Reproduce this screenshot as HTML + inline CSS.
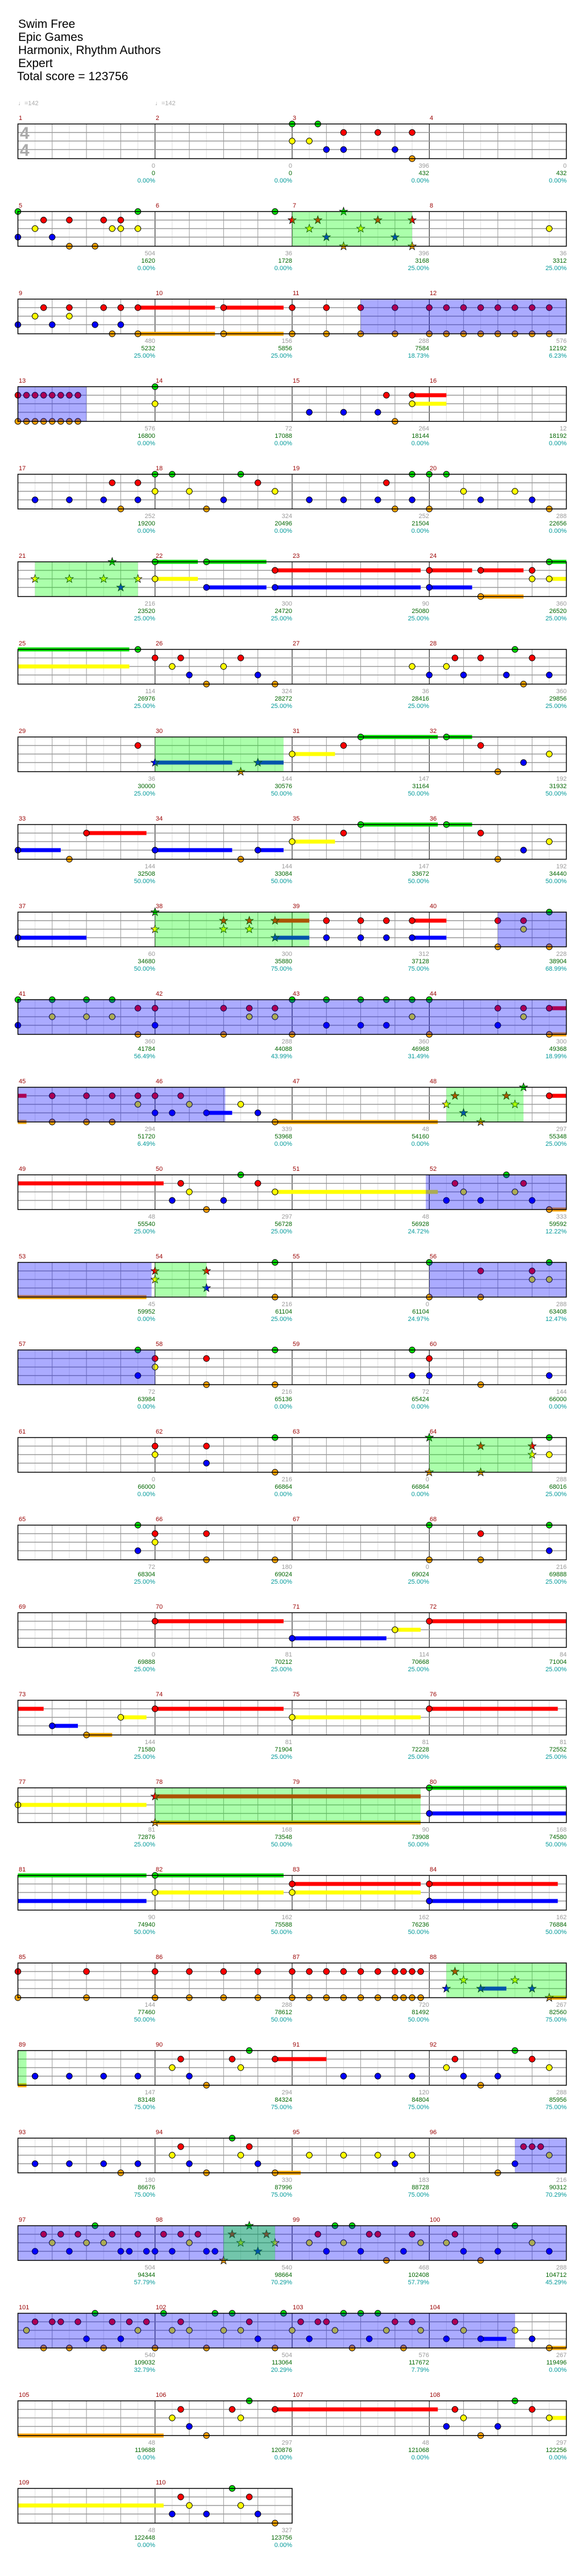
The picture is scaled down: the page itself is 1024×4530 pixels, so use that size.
<!DOCTYPE html>
<html><head><meta charset="utf-8"><style>
html,body{margin:0;padding:0;background:#fff;}
body{width:1024px;height:4530px;overflow:hidden;position:relative;}
svg{position:absolute;left:0;top:0;}
text{font-family:"Liberation Sans",sans-serif;font-size:11px;}
.t{font-size:21px;fill:#000;}
.m{fill:#990000;}
.a{fill:#999;text-anchor:end;}
.b{fill:#006600;text-anchor:end;}
.c{fill:#009999;text-anchor:end;}
.tp{fill:#aaa;}
.ts{fill:#aaa;font-size:30px;font-weight:bold;}
</style></head><body>
<svg id="s" width="1024" height="4530" viewBox="0 0 1024 4530" xmlns="http://www.w3.org/2000/svg">
<g id="shapes"></g>
<text class="t" x="32" y="49">Swim Free</text>
<text class="t" x="32" y="72">Epic Games</text>
<text class="t" x="32" y="95">Harmonix, Rhythm Authors</text>
<text class="t" x="32" y="118">Expert</text>
<text class="t" x="30" y="141">Total score = 123756</text>
<text class="tp" x="32" y="185">♩=142</text>
<text class="tp" x="273" y="185">♩=142</text>
<text class="ts" x="35" y="244">4</text>
<text class="ts" x="35" y="274">4</text>

<g transform="translate(0,218)"><text class="m" x="33" y="-7">1</text><text class="m" x="274" y="-7">2</text><text class="m" x="515" y="-7">3</text><text class="m" x="756" y="-7">4</text>
<text class="a" x="273" y="77">0</text><text class="b" x="273" y="90">0</text><text class="c" x="273" y="103">0.00%</text>
<text class="a" x="514" y="77">0</text><text class="b" x="514" y="90">0</text><text class="c" x="514" y="103">0.00%</text>
<text class="a" x="755" y="77">396</text><text class="b" x="755" y="90">432</text><text class="c" x="755" y="103">0.00%</text>
<text class="a" x="997" y="77">0</text><text class="b" x="997" y="90">432</text><text class="c" x="997" y="103">0.00%</text></g>

<g transform="translate(0,372)"><text class="m" x="33" y="-7">5</text><text class="m" x="274" y="-7">6</text><text class="m" x="515" y="-7">7</text><text class="m" x="756" y="-7">8</text>
<text class="a" x="273" y="77">504</text><text class="b" x="273" y="90">1620</text><text class="c" x="273" y="103">0.00%</text>
<text class="a" x="514" y="77">36</text><text class="b" x="514" y="90">1728</text><text class="c" x="514" y="103">0.00%</text>
<text class="a" x="755" y="77">396</text><text class="b" x="755" y="90">3168</text><text class="c" x="755" y="103">25.00%</text>
<text class="a" x="997" y="77">36</text><text class="b" x="997" y="90">3312</text><text class="c" x="997" y="103">25.00%</text></g>

<g transform="translate(0,526)"><text class="m" x="33" y="-7">9</text><text class="m" x="274" y="-7">10</text><text class="m" x="515" y="-7">11</text><text class="m" x="756" y="-7">12</text>
<text class="a" x="273" y="77">480</text><text class="b" x="273" y="90">5232</text><text class="c" x="273" y="103">25.00%</text>
<text class="a" x="514" y="77">156</text><text class="b" x="514" y="90">5856</text><text class="c" x="514" y="103">25.00%</text>
<text class="a" x="755" y="77">288</text><text class="b" x="755" y="90">7584</text><text class="c" x="755" y="103">18.73%</text>
<text class="a" x="997" y="77">576</text><text class="b" x="997" y="90">12192</text><text class="c" x="997" y="103">6.23%</text></g>

<g transform="translate(0,680)"><text class="m" x="33" y="-7">13</text><text class="m" x="274" y="-7">14</text><text class="m" x="515" y="-7">15</text><text class="m" x="756" y="-7">16</text>
<text class="a" x="273" y="77">576</text><text class="b" x="273" y="90">16800</text><text class="c" x="273" y="103">0.00%</text>
<text class="a" x="514" y="77">72</text><text class="b" x="514" y="90">17088</text><text class="c" x="514" y="103">0.00%</text>
<text class="a" x="755" y="77">264</text><text class="b" x="755" y="90">18144</text><text class="c" x="755" y="103">0.00%</text>
<text class="a" x="997" y="77">12</text><text class="b" x="997" y="90">18192</text><text class="c" x="997" y="103">0.00%</text></g>

<g transform="translate(0,834)"><text class="m" x="33" y="-7">17</text><text class="m" x="274" y="-7">18</text><text class="m" x="515" y="-7">19</text><text class="m" x="756" y="-7">20</text>
<text class="a" x="273" y="77">252</text><text class="b" x="273" y="90">19200</text><text class="c" x="273" y="103">0.00%</text>
<text class="a" x="514" y="77">324</text><text class="b" x="514" y="90">20496</text><text class="c" x="514" y="103">0.00%</text>
<text class="a" x="755" y="77">252</text><text class="b" x="755" y="90">21504</text><text class="c" x="755" y="103">0.00%</text>
<text class="a" x="997" y="77">288</text><text class="b" x="997" y="90">22656</text><text class="c" x="997" y="103">0.00%</text></g>

<g transform="translate(0,988)"><text class="m" x="33" y="-7">21</text><text class="m" x="274" y="-7">22</text><text class="m" x="515" y="-7">23</text><text class="m" x="756" y="-7">24</text>
<text class="a" x="273" y="77">216</text><text class="b" x="273" y="90">23520</text><text class="c" x="273" y="103">25.00%</text>
<text class="a" x="514" y="77">300</text><text class="b" x="514" y="90">24720</text><text class="c" x="514" y="103">25.00%</text>
<text class="a" x="755" y="77">90</text><text class="b" x="755" y="90">25080</text><text class="c" x="755" y="103">25.00%</text>
<text class="a" x="997" y="77">360</text><text class="b" x="997" y="90">26520</text><text class="c" x="997" y="103">25.00%</text></g>

<g transform="translate(0,1142)"><text class="m" x="33" y="-7">25</text><text class="m" x="274" y="-7">26</text><text class="m" x="515" y="-7">27</text><text class="m" x="756" y="-7">28</text>
<text class="a" x="273" y="77">114</text><text class="b" x="273" y="90">26976</text><text class="c" x="273" y="103">25.00%</text>
<text class="a" x="514" y="77">324</text><text class="b" x="514" y="90">28272</text><text class="c" x="514" y="103">25.00%</text>
<text class="a" x="755" y="77">36</text><text class="b" x="755" y="90">28416</text><text class="c" x="755" y="103">25.00%</text>
<text class="a" x="997" y="77">360</text><text class="b" x="997" y="90">29856</text><text class="c" x="997" y="103">25.00%</text></g>

<g transform="translate(0,1296)"><text class="m" x="33" y="-7">29</text><text class="m" x="274" y="-7">30</text><text class="m" x="515" y="-7">31</text><text class="m" x="756" y="-7">32</text>
<text class="a" x="273" y="77">36</text><text class="b" x="273" y="90">30000</text><text class="c" x="273" y="103">25.00%</text>
<text class="a" x="514" y="77">144</text><text class="b" x="514" y="90">30576</text><text class="c" x="514" y="103">50.00%</text>
<text class="a" x="755" y="77">147</text><text class="b" x="755" y="90">31164</text><text class="c" x="755" y="103">50.00%</text>
<text class="a" x="997" y="77">192</text><text class="b" x="997" y="90">31932</text><text class="c" x="997" y="103">50.00%</text></g>

<g transform="translate(0,1450)"><text class="m" x="33" y="-7">33</text><text class="m" x="274" y="-7">34</text><text class="m" x="515" y="-7">35</text><text class="m" x="756" y="-7">36</text>
<text class="a" x="273" y="77">144</text><text class="b" x="273" y="90">32508</text><text class="c" x="273" y="103">50.00%</text>
<text class="a" x="514" y="77">144</text><text class="b" x="514" y="90">33084</text><text class="c" x="514" y="103">50.00%</text>
<text class="a" x="755" y="77">147</text><text class="b" x="755" y="90">33672</text><text class="c" x="755" y="103">50.00%</text>
<text class="a" x="997" y="77">192</text><text class="b" x="997" y="90">34440</text><text class="c" x="997" y="103">50.00%</text></g>

<g transform="translate(0,1604)"><text class="m" x="33" y="-7">37</text><text class="m" x="274" y="-7">38</text><text class="m" x="515" y="-7">39</text><text class="m" x="756" y="-7">40</text>
<text class="a" x="273" y="77">60</text><text class="b" x="273" y="90">34680</text><text class="c" x="273" y="103">50.00%</text>
<text class="a" x="514" y="77">300</text><text class="b" x="514" y="90">35880</text><text class="c" x="514" y="103">75.00%</text>
<text class="a" x="755" y="77">312</text><text class="b" x="755" y="90">37128</text><text class="c" x="755" y="103">75.00%</text>
<text class="a" x="997" y="77">228</text><text class="b" x="997" y="90">38904</text><text class="c" x="997" y="103">68.99%</text></g>

<g transform="translate(0,1758)"><text class="m" x="33" y="-7">41</text><text class="m" x="274" y="-7">42</text><text class="m" x="515" y="-7">43</text><text class="m" x="756" y="-7">44</text>
<text class="a" x="273" y="77">360</text><text class="b" x="273" y="90">41784</text><text class="c" x="273" y="103">56.49%</text>
<text class="a" x="514" y="77">288</text><text class="b" x="514" y="90">44088</text><text class="c" x="514" y="103">43.99%</text>
<text class="a" x="755" y="77">360</text><text class="b" x="755" y="90">46968</text><text class="c" x="755" y="103">31.49%</text>
<text class="a" x="997" y="77">300</text><text class="b" x="997" y="90">49368</text><text class="c" x="997" y="103">18.99%</text></g>

<g transform="translate(0,1912)"><text class="m" x="33" y="-7">45</text><text class="m" x="274" y="-7">46</text><text class="m" x="515" y="-7">47</text><text class="m" x="756" y="-7">48</text>
<text class="a" x="273" y="77">294</text><text class="b" x="273" y="90">51720</text><text class="c" x="273" y="103">6.49%</text>
<text class="a" x="514" y="77">339</text><text class="b" x="514" y="90">53968</text><text class="c" x="514" y="103">0.00%</text>
<text class="a" x="755" y="77">48</text><text class="b" x="755" y="90">54160</text><text class="c" x="755" y="103">0.00%</text>
<text class="a" x="997" y="77">297</text><text class="b" x="997" y="90">55348</text><text class="c" x="997" y="103">25.00%</text></g>

<g transform="translate(0,2066)"><text class="m" x="33" y="-7">49</text><text class="m" x="274" y="-7">50</text><text class="m" x="515" y="-7">51</text><text class="m" x="756" y="-7">52</text>
<text class="a" x="273" y="77">48</text><text class="b" x="273" y="90">55540</text><text class="c" x="273" y="103">25.00%</text>
<text class="a" x="514" y="77">297</text><text class="b" x="514" y="90">56728</text><text class="c" x="514" y="103">25.00%</text>
<text class="a" x="755" y="77">48</text><text class="b" x="755" y="90">56928</text><text class="c" x="755" y="103">24.72%</text>
<text class="a" x="997" y="77">333</text><text class="b" x="997" y="90">59592</text><text class="c" x="997" y="103">12.22%</text></g>

<g transform="translate(0,2220)"><text class="m" x="33" y="-7">53</text><text class="m" x="274" y="-7">54</text><text class="m" x="515" y="-7">55</text><text class="m" x="756" y="-7">56</text>
<text class="a" x="273" y="77">45</text><text class="b" x="273" y="90">59952</text><text class="c" x="273" y="103">0.00%</text>
<text class="a" x="514" y="77">216</text><text class="b" x="514" y="90">61104</text><text class="c" x="514" y="103">25.00%</text>
<text class="a" x="755" y="77">0</text><text class="b" x="755" y="90">61104</text><text class="c" x="755" y="103">24.97%</text>
<text class="a" x="997" y="77">288</text><text class="b" x="997" y="90">63408</text><text class="c" x="997" y="103">12.47%</text></g>

<g transform="translate(0,2374)"><text class="m" x="33" y="-7">57</text><text class="m" x="274" y="-7">58</text><text class="m" x="515" y="-7">59</text><text class="m" x="756" y="-7">60</text>
<text class="a" x="273" y="77">72</text><text class="b" x="273" y="90">63984</text><text class="c" x="273" y="103">0.00%</text>
<text class="a" x="514" y="77">216</text><text class="b" x="514" y="90">65136</text><text class="c" x="514" y="103">0.00%</text>
<text class="a" x="755" y="77">72</text><text class="b" x="755" y="90">65424</text><text class="c" x="755" y="103">0.00%</text>
<text class="a" x="997" y="77">144</text><text class="b" x="997" y="90">66000</text><text class="c" x="997" y="103">0.00%</text></g>

<g transform="translate(0,2528)"><text class="m" x="33" y="-7">61</text><text class="m" x="274" y="-7">62</text><text class="m" x="515" y="-7">63</text><text class="m" x="756" y="-7">64</text>
<text class="a" x="273" y="77">0</text><text class="b" x="273" y="90">66000</text><text class="c" x="273" y="103">0.00%</text>
<text class="a" x="514" y="77">216</text><text class="b" x="514" y="90">66864</text><text class="c" x="514" y="103">0.00%</text>
<text class="a" x="755" y="77">0</text><text class="b" x="755" y="90">66864</text><text class="c" x="755" y="103">0.00%</text>
<text class="a" x="997" y="77">288</text><text class="b" x="997" y="90">68016</text><text class="c" x="997" y="103">25.00%</text></g>

<g transform="translate(0,2682)"><text class="m" x="33" y="-7">65</text><text class="m" x="274" y="-7">66</text><text class="m" x="515" y="-7">67</text><text class="m" x="756" y="-7">68</text>
<text class="a" x="273" y="77">72</text><text class="b" x="273" y="90">68304</text><text class="c" x="273" y="103">25.00%</text>
<text class="a" x="514" y="77">180</text><text class="b" x="514" y="90">69024</text><text class="c" x="514" y="103">25.00%</text>
<text class="a" x="755" y="77">0</text><text class="b" x="755" y="90">69024</text><text class="c" x="755" y="103">25.00%</text>
<text class="a" x="997" y="77">216</text><text class="b" x="997" y="90">69888</text><text class="c" x="997" y="103">25.00%</text></g>

<g transform="translate(0,2836)"><text class="m" x="33" y="-7">69</text><text class="m" x="274" y="-7">70</text><text class="m" x="515" y="-7">71</text><text class="m" x="756" y="-7">72</text>
<text class="a" x="273" y="77">0</text><text class="b" x="273" y="90">69888</text><text class="c" x="273" y="103">25.00%</text>
<text class="a" x="514" y="77">81</text><text class="b" x="514" y="90">70212</text><text class="c" x="514" y="103">25.00%</text>
<text class="a" x="755" y="77">114</text><text class="b" x="755" y="90">70668</text><text class="c" x="755" y="103">25.00%</text>
<text class="a" x="997" y="77">84</text><text class="b" x="997" y="90">71004</text><text class="c" x="997" y="103">25.00%</text></g>

<g transform="translate(0,2990)"><text class="m" x="33" y="-7">73</text><text class="m" x="274" y="-7">74</text><text class="m" x="515" y="-7">75</text><text class="m" x="756" y="-7">76</text>
<text class="a" x="273" y="77">144</text><text class="b" x="273" y="90">71580</text><text class="c" x="273" y="103">25.00%</text>
<text class="a" x="514" y="77">81</text><text class="b" x="514" y="90">71904</text><text class="c" x="514" y="103">25.00%</text>
<text class="a" x="755" y="77">81</text><text class="b" x="755" y="90">72228</text><text class="c" x="755" y="103">25.00%</text>
<text class="a" x="997" y="77">81</text><text class="b" x="997" y="90">72552</text><text class="c" x="997" y="103">25.00%</text></g>

<g transform="translate(0,3144)"><text class="m" x="33" y="-7">77</text><text class="m" x="274" y="-7">78</text><text class="m" x="515" y="-7">79</text><text class="m" x="756" y="-7">80</text>
<text class="a" x="273" y="77">81</text><text class="b" x="273" y="90">72876</text><text class="c" x="273" y="103">25.00%</text>
<text class="a" x="514" y="77">168</text><text class="b" x="514" y="90">73548</text><text class="c" x="514" y="103">50.00%</text>
<text class="a" x="755" y="77">90</text><text class="b" x="755" y="90">73908</text><text class="c" x="755" y="103">50.00%</text>
<text class="a" x="997" y="77">168</text><text class="b" x="997" y="90">74580</text><text class="c" x="997" y="103">50.00%</text></g>

<g transform="translate(0,3298)"><text class="m" x="33" y="-7">81</text><text class="m" x="274" y="-7">82</text><text class="m" x="515" y="-7">83</text><text class="m" x="756" y="-7">84</text>
<text class="a" x="273" y="77">90</text><text class="b" x="273" y="90">74940</text><text class="c" x="273" y="103">50.00%</text>
<text class="a" x="514" y="77">162</text><text class="b" x="514" y="90">75588</text><text class="c" x="514" y="103">50.00%</text>
<text class="a" x="755" y="77">162</text><text class="b" x="755" y="90">76236</text><text class="c" x="755" y="103">50.00%</text>
<text class="a" x="997" y="77">162</text><text class="b" x="997" y="90">76884</text><text class="c" x="997" y="103">50.00%</text></g>

<g transform="translate(0,3452)"><text class="m" x="33" y="-7">85</text><text class="m" x="274" y="-7">86</text><text class="m" x="515" y="-7">87</text><text class="m" x="756" y="-7">88</text>
<text class="a" x="273" y="77">144</text><text class="b" x="273" y="90">77460</text><text class="c" x="273" y="103">50.00%</text>
<text class="a" x="514" y="77">288</text><text class="b" x="514" y="90">78612</text><text class="c" x="514" y="103">50.00%</text>
<text class="a" x="755" y="77">720</text><text class="b" x="755" y="90">81492</text><text class="c" x="755" y="103">50.00%</text>
<text class="a" x="997" y="77">267</text><text class="b" x="997" y="90">82560</text><text class="c" x="997" y="103">75.00%</text></g>

<g transform="translate(0,3606)"><text class="m" x="33" y="-7">89</text><text class="m" x="274" y="-7">90</text><text class="m" x="515" y="-7">91</text><text class="m" x="756" y="-7">92</text>
<text class="a" x="273" y="77">147</text><text class="b" x="273" y="90">83148</text><text class="c" x="273" y="103">75.00%</text>
<text class="a" x="514" y="77">294</text><text class="b" x="514" y="90">84324</text><text class="c" x="514" y="103">75.00%</text>
<text class="a" x="755" y="77">120</text><text class="b" x="755" y="90">84804</text><text class="c" x="755" y="103">75.00%</text>
<text class="a" x="997" y="77">288</text><text class="b" x="997" y="90">85956</text><text class="c" x="997" y="103">75.00%</text></g>

<g transform="translate(0,3760)"><text class="m" x="33" y="-7">93</text><text class="m" x="274" y="-7">94</text><text class="m" x="515" y="-7">95</text><text class="m" x="756" y="-7">96</text>
<text class="a" x="273" y="77">180</text><text class="b" x="273" y="90">86676</text><text class="c" x="273" y="103">75.00%</text>
<text class="a" x="514" y="77">330</text><text class="b" x="514" y="90">87996</text><text class="c" x="514" y="103">75.00%</text>
<text class="a" x="755" y="77">183</text><text class="b" x="755" y="90">88728</text><text class="c" x="755" y="103">75.00%</text>
<text class="a" x="997" y="77">216</text><text class="b" x="997" y="90">90312</text><text class="c" x="997" y="103">70.29%</text></g>

<g transform="translate(0,3914)"><text class="m" x="33" y="-7">97</text><text class="m" x="274" y="-7">98</text><text class="m" x="515" y="-7">99</text><text class="m" x="756" y="-7">100</text>
<text class="a" x="273" y="77">504</text><text class="b" x="273" y="90">94344</text><text class="c" x="273" y="103">57.79%</text>
<text class="a" x="514" y="77">540</text><text class="b" x="514" y="90">98664</text><text class="c" x="514" y="103">70.29%</text>
<text class="a" x="755" y="77">468</text><text class="b" x="755" y="90">102408</text><text class="c" x="755" y="103">57.79%</text>
<text class="a" x="997" y="77">288</text><text class="b" x="997" y="90">104712</text><text class="c" x="997" y="103">45.29%</text></g>

<g transform="translate(0,4068)"><text class="m" x="33" y="-7">101</text><text class="m" x="274" y="-7">102</text><text class="m" x="515" y="-7">103</text><text class="m" x="756" y="-7">104</text>
<text class="a" x="273" y="77">540</text><text class="b" x="273" y="90">109032</text><text class="c" x="273" y="103">32.79%</text>
<text class="a" x="514" y="77">504</text><text class="b" x="514" y="90">113064</text><text class="c" x="514" y="103">20.29%</text>
<text class="a" x="755" y="77">576</text><text class="b" x="755" y="90">117672</text><text class="c" x="755" y="103">7.79%</text>
<text class="a" x="997" y="77">267</text><text class="b" x="997" y="90">119496</text><text class="c" x="997" y="103">0.00%</text></g>

<g transform="translate(0,4222)"><text class="m" x="33" y="-7">105</text><text class="m" x="274" y="-7">106</text><text class="m" x="515" y="-7">107</text><text class="m" x="756" y="-7">108</text>
<text class="a" x="273" y="77">48</text><text class="b" x="273" y="90">119688</text><text class="c" x="273" y="103">0.00%</text>
<text class="a" x="514" y="77">297</text><text class="b" x="514" y="90">120876</text><text class="c" x="514" y="103">0.00%</text>
<text class="a" x="755" y="77">48</text><text class="b" x="755" y="90">121068</text><text class="c" x="755" y="103">0.00%</text>
<text class="a" x="997" y="77">297</text><text class="b" x="997" y="90">122256</text><text class="c" x="997" y="103">0.00%</text></g>

<g transform="translate(0,4376)"><text class="m" x="33" y="-7">109</text><text class="m" x="274" y="-7">110</text>
<text class="a" x="273" y="77">48</text><text class="b" x="273" y="90">122448</text><text class="c" x="273" y="103">0.00%</text>
<text class="a" x="514" y="77">327</text><text class="b" x="514" y="90">123756</text><text class="c" x="514" y="103">0.00%</text></g>
</svg>
<script>
(function(){
var rows=[
"g16 g17.5 r19 r21 r23 y16 y17 b18 b19 b22 o23",
"G16-23 g0 g7 g15 r1.5 r3 r5 r6 y1 y5.5 y6 y7 y31 b0 b2 o3 o4.5 g19* r16* r17.5* r21* r23* y17* y20* b18* b22* o19* o23*",
"B20-32 r1.5 r3 r5 r6 r7-11.5 r12-15.5 r16 r18 r20 r22 r24 r25 r26 r27 r28 r29 r30 r31 y1 y3 b0 b2 b4.5 b6 o5.5 o7-11.5 o12-15.5 o16 o18 o20 o22 o24 o25 o26 o27 o28 o29 o30 o31",
"B0-4 r0 r0.5 r1 r1.5 r2 r2.5 r3 r3.5 o0 o0.5 o1 o1.5 o2 o2.5 o3 o3.5 g8 y8 r21.5 r23-25 y23-25 b17 b19 b21 o22",
"g8 g9 g13 g23 g24 g25 r5.5 r7 r14 r21.5 y8 y10 y15 y26 y29 b1 b3 b5 b7 b12 b17 b19 b21 b23 b27 b30 o6 o11 o22 o24 o31",
"G1-7 g5.5* y1* y3* y5* y7* b6* g8-10.5 g11-14.5 y8-10.5 r15-23.5 r24-26.5 r27-29.5 r30 b11-14.5 b15-23.5 b24-26.5 o27-29.5 y30 y31-32 g31-32",
"~g0-6.5 ~y0-6.5 g7 r8 r9.5 r13 r25.5 r27 r30 g29 y9 y12 y23 y25 b10 b14 b24 b26 b28.5 b31 o11 o15 o29.5",
"G8-15.5 r7 b8-12.5* b14-15.5* o13* g20-24.5 g25-26.5 r19 r27 y16-18.5 y31 b29.5 o28",
"b0-2.5 r4-7.5 o3 b8-12.5 b14-15.5 o13 g20-24.5 g25-26.5 r19 r27 y16-18.5 y31 b29.5 o28",
"b0-4 G8-17 g8* r12* r13.5* r15-17* y8* y12* y13.5* b15-17* r18 r20 r21.5 r23-25 b18 b20 b21.5 b23-25 B28-32 r28 r29.5 g31 y29.5 o28 o31",
"B0-32 g0 g2 g4 g5.5 g16 g18 g20 g21.5 g23 g24 r7 r8 r12 r13.5 r15 r28 r29.5 r31-32 y2 y4 y5.5 y13.5 y15 y23 y29.5 b0 b8 b18 b20 b21.5 b28 o7 o12 o16 o24 o31-32",
"B0-12.1 ~r0-0.5 r2 r4 r5.5 r7 r8 r9.5 y7 y10 y13 b8 b9 b11-12.5 b14 ~o0-0.5 o2 o4 o5.5 o15-24.5 G25-29.5 g29.5* r25.5* r28.5* y25* y29* b26* o27* r31-32",
"~r0-8.5 r9.5 r14 g13 g28.5 y10 y15-24.5 b9 b12 b25 b27 b30 o11 o31-32 B23.8-32 r25.5 r29.5 y26 y29",
"B0-7.8 ~o0-7.5 G8-11 r8* r11* y8* b11* g15 o15 g24 o24 B24-32 r27 r30 g31 y30 y31 o27",
"B0-8 g7 b7 r8 y8 r11 o11 g15 o15 g23 b23 r24 b24 o27 b31",
"r8 y8 r11 b11 g15 o15 G24-30 g24* o24* r27* o27* r30* y30* g31 y31",
"g7 b7 r8 y8 r11 o11 o15 g24 o24 r27 o27 g31 b31",
"r8-15.5 b16-21.5 y22-23.5 r24-32",
"~r0-1.5 y6-7.5 b2-3.5 o4-5.5 r8-15.5 y16-23.5 r24-31.5",
"y0-7.5 G8-23.5 r8-23.5* o8-23.5* g24-32 b24-32",
"~g0-7.5 ~b0-7.5 g8-15.5 y8-15.5 r16-23.5 y16-23.5 r24-31.5 b24-31.5",
"r0 r4 r8 r10 r12 r14 r16 r17 r18 r19 r20 r21 r22 r22.5 r23 r23.5 o0 o4 o8 o10 o12 o14 o16 o17 o18 o19 o20 o21 o22 o22.5 o23 o23.5 G25-32 r25.5* y26* y29* b25* b27-28.5* b30* o31-32*",
"G0-0.5 ~o0-0.5 b1 b3 b5 b7 b10 b19 b21 b23 b26 b28 r9.5 r12.5 r15-18 r25.5 r30 y9 y13 y25 y31 g13.5 g29 o11 o27",
"b1 b3 b5 b7 b10 b14 b22 b29 o6 o11 o15-16.5 o28 r9.5 r13.5 r29.5 r30 r30.5 y9 y13 y17 y19 y21 y23 y31 g12.5 B29-32",
"B0-32 G12-15 g4.5 g13.5* g18.5 g19.5 g29 r1.5 r2.5 r3.5 r5.5 r7 r8.5 r9.5 r10.5 r12.5* r14.5* r17.5 r20.5 r21 r23 r25.5 y2 y4 y5 y10 y13* y15* y17 y19 y23.5 y25 y30 b1 b3 b6 b6.5 b7.5 b8 b9 b11 b11.5 b14* b18 b20 b22.5 b26 b28 b31 o12* o21.5 o27",
"B0-29 g4.5 g8.5 g11.5 g12.5 g15.5 g19 g20 g21 r1 r2 r2.5 r3.5 r5.5 r6.5 r7.5 r9.5 r13.5 r16.5 r17.5 r18 r22 r23 r25.5 y0.5 y7 y9 y10 y12 y13 y16 y18.5 y21.5 y23.5 y26 y29 b4 b6 b14 b17 b20.5 b25 b27-28.5 b30 o1.5 o3 o5 o8 o11 o15 o19.5 o22.5 o31-32",
"~o0-8.5 r9.5 r12.5 r15-24.5 r25.5 r30 g13.5 g29 y9 y13 y26 y31-32 b10 b25 b28 o11 o27",
"~y0-8.5 r9.5 r13.5 g12.5 y10 y13 b9 b11 b14 o15"
];
var NS="http://www.w3.org/2000/svg",g=document.getElementById("shapes");
var L=31.5,S=965/32;
function X(p){return L+p*S;}
var col={g:"#00e000",r:"#ff0000",y:"#ffff00",b:"#0000ff",o:"#ffa500"};
var LY={g:0,r:15,y:30,b:45,o:61};
var h="";
function star(cx,cy,c){var pts=[];for(var i=0;i<10;i++){var a=-Math.PI/2+i*Math.PI/5,r=i%2?3:7.5;pts.push((cx+r*Math.cos(a)).toFixed(1)+","+(cy+r*Math.sin(a)).toFixed(1));}
return '<polygon points="'+pts.join(" ")+'" fill="'+c+'" stroke="#000" stroke-width="0.8"/>';}
rows.forEach(function(rs,i){
 var T=218+154*i,W=(i==27?16:32),R=X(W);
 var grid="",sus="",notes="",reg="";
 grid+='<rect x="'+L+'" y="'+T+'" width="'+(R-L)+'" height="61" fill="#fff"/>';
 for(var p=1;p<W;p++){var x=X(p).toFixed(1);var c=p%8==0?"#000":(p%2==0?"#999":"#e0e0e0");
  grid+='<line x1="'+x+'" y1="'+T+'" x2="'+x+'" y2="'+(T+61)+'" stroke="'+c+'" stroke-width="1"/>';}
 [15,30,45].forEach(function(d){grid+='<line x1="'+L+'" y1="'+(T+d)+'" x2="'+R+'" y2="'+(T+d)+'" stroke="#999" stroke-width="1.5"/>';});
 rs.split(" ").forEach(function(tk){
  var m=tk.match(/^([GB])([\d.]+)-([\d.]+)$/);
  if(m){var x1=X(+m[2]),x2=X(+m[3]);reg+='<rect x="'+x1+'" y="'+T+'" width="'+(x2-x1)+'" height="61" fill="'+(m[1]=="G"?"rgba(0,255,0,0.33)":"rgba(0,0,255,0.33)")+'"/>';return;}
  m=tk.match(/^(~?)([grybo])([\d.]+)(?:-([\d.]+))?(\*?)$/);
  if(!m)return;
  var ln=m[2],x=X(+m[3]),y=T+LY[ln],c=col[ln];
  if(m[4]){var xe=X(+m[4]);sus+='<rect x="'+x+'" y="'+(y-3.5)+'" width="'+(xe-x)+'" height="7" fill="'+c+'"/>';}
  if(!m[1]){ if(m[5]) notes+=star(x,y,c); else notes+='<ellipse cx="'+x+'" cy="'+y+'" rx="5.2" ry="5.2" fill="'+c+'" stroke="#000" stroke-width="1"/>';}
 });
 var border='<rect x="'+L+'" y="'+T+'" width="'+(R-L)+'" height="61" fill="none" stroke="#000" stroke-width="1.5"/>';
 h+=grid+sus+notes+reg+border;
});
g.innerHTML=h;
})();
</script>
</body></html>
